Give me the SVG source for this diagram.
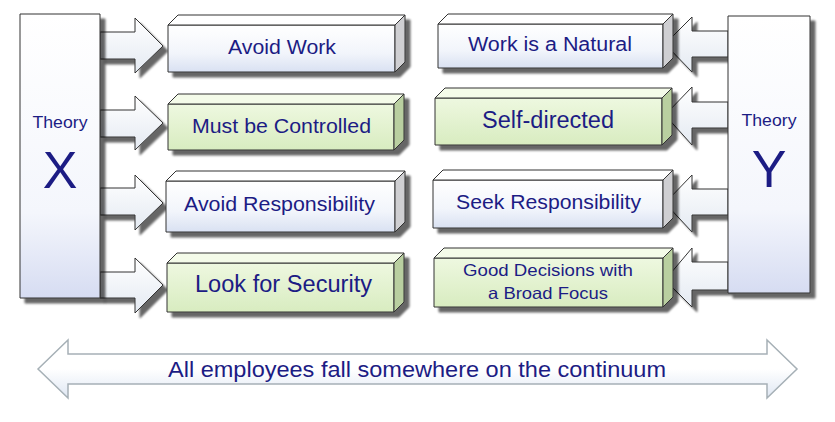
<svg xmlns="http://www.w3.org/2000/svg" width="835" height="422" viewBox="0 0 835 422">
<defs>
<linearGradient id="gBlue" x1="0" y1="0" x2="0" y2="1"><stop offset="0" stop-color="#ffffff"/><stop offset="0.6" stop-color="#f2f5fb"/><stop offset="1" stop-color="#d9e1f2"/></linearGradient>
<linearGradient id="gGreen" x1="0" y1="0" x2="0" y2="1"><stop offset="0" stop-color="#eef8e0"/><stop offset="1" stop-color="#d8ecc0"/></linearGradient>
<linearGradient id="gTall" x1="0" y1="0" x2="0" y2="1"><stop offset="0" stop-color="#ffffff"/><stop offset="0.7" stop-color="#f4f6fc"/><stop offset="1" stop-color="#d6dcf2"/></linearGradient>
<linearGradient id="gArrow" x1="0" y1="0" x2="0" y2="1"><stop offset="0" stop-color="#ffffff"/><stop offset="1" stop-color="#e4eaf2"/></linearGradient>
<linearGradient id="gBig" x1="0" y1="0" x2="0" y2="1"><stop offset="0" stop-color="#ffffff"/><stop offset="0.5" stop-color="#ffffff"/><stop offset="1" stop-color="#dfe7f3"/></linearGradient>
<filter id="sh" x="-10%" y="-10%" width="130%" height="130%">
<feGaussianBlur in="SourceAlpha" stdDeviation="1.2"/>
<feOffset dx="5" dy="5" result="o"/>
<feComponentTransfer><feFuncA type="linear" slope="0.6"/></feComponentTransfer>
<feMerge><feMergeNode/><feMergeNode in="SourceGraphic"/></feMerge>
</filter>
</defs>
<style>
.edge{stroke:#333;stroke-width:1;stroke-linejoin:round}
.fb{fill:url(#gBlue)}
.fg{fill:url(#gGreen)}
.topb{fill:#ffffff}
.sideb{fill:#cfcfd2}
.topg{fill:#f4fbe9}
.sideg{fill:#b9cfa0}
.arr{fill:url(#gArrow);stroke:#333;stroke-width:1;stroke-linejoin:miter}
text{font-family:"Liberation Sans",Arial,sans-serif;fill:#1c1c84;text-anchor:middle}
</style>
<rect width="835" height="422" fill="#ffffff"/>

<g id="connectors">
<polygon class="arr" filter="url(#sh)" points="100,32 135,32 135,18 163,46 135,73 135,59 100,59"/>
<polygon class="arr" filter="url(#sh)" points="100,110 135,110 135,96 163,123 135,150 135,137 100,137"/>
<polygon class="arr" filter="url(#sh)" points="100,188 135,188 135,175 163,203 135,230 135,215 100,215"/>
<polygon class="arr" filter="url(#sh)" points="100,272 135,272 135,258 163,285 135,313 135,298 100,298"/>
<polygon class="arr" filter="url(#sh)" points="728,31 692,31 692,17 665,44 692,72 692,57 728,57"/>
<polygon class="arr" filter="url(#sh)" points="728,102 692,102 692,87 665,115 692,145 692,128 728,128"/>
<polygon class="arr" filter="url(#sh)" points="728,189 692,189 692,175 665,203 692,232 692,215 728,215"/>
<polygon class="arr" filter="url(#sh)" points="728,262 692,262 692,248 665,280 692,307 692,290 728,290"/>
</g>

<g id="theoryX">
<rect x="20" y="14" width="80" height="284" fill="url(#gTall)" class="edge" filter="url(#sh)"/>
<text x="60" y="128" font-size="17" textLength="55" lengthAdjust="spacingAndGlyphs">Theory</text>
<text x="60" y="188" font-size="52">X</text>
</g>

<g id="theoryY">
<rect x="728" y="16" width="82" height="277" fill="url(#gTall)" class="edge" filter="url(#sh)"/>
<text x="769" y="126" font-size="17" textLength="55" lengthAdjust="spacingAndGlyphs">Theory</text>
<text x="769" y="187" font-size="52">Y</text>
</g>

<g id="avoidWork" filter="url(#sh)">
<rect x="168" y="25" width="227" height="47" class="fb edge"/>
<polygon class="topb edge" points="168,25 178,15 405,15 395,25"/>
<polygon class="sideb edge" points="395,25 405,15 405,62 395,72"/>
</g>
<text x="282" y="54" font-size="20" textLength="108" lengthAdjust="spacingAndGlyphs">Avoid Work</text>

<g id="mustBeControlled" filter="url(#sh)">
<rect x="168" y="104" width="226" height="46" class="fg edge"/>
<polygon class="topg edge" points="168,104 178,94 404,94 394,104"/>
<polygon class="sideg edge" points="394,104 404,94 404,140 394,150"/>
</g>
<text x="281.5" y="133" font-size="20" textLength="179" lengthAdjust="spacingAndGlyphs">Must be Controlled</text>

<g id="avoidResponsibility" filter="url(#sh)">
<rect x="166" y="181" width="229" height="51" class="fb edge"/>
<polygon class="topb edge" points="166,181 176,171 405,171 395,181"/>
<polygon class="sideb edge" points="395,181 405,171 405,222 395,232"/>
</g>
<text x="279.5" y="211" font-size="20" textLength="191" lengthAdjust="spacingAndGlyphs">Avoid Responsibility</text>

<g id="lookForSecurity" filter="url(#sh)">
<rect x="167" y="263" width="227" height="49" class="fg edge"/>
<polygon class="topg edge" points="167,263 177,253 404,253 394,263"/>
<polygon class="sideg edge" points="394,263 404,253 404,302 394,312"/>
</g>
<text x="283.5" y="292" font-size="23" textLength="177" lengthAdjust="spacingAndGlyphs">Look for Security</text>

<g id="workIsNatural" filter="url(#sh)">
<rect x="438" y="24" width="225" height="44" class="fb edge"/>
<polygon class="topb edge" points="438,24 448,14 673,14 663,24"/>
<polygon class="sideb edge" points="663,24 673,14 673,58 663,68"/>
</g>
<text x="550" y="51" font-size="20" textLength="164" lengthAdjust="spacingAndGlyphs">Work is a Natural</text>

<g id="selfDirected" filter="url(#sh)">
<rect x="435" y="98" width="227" height="47" class="fg edge"/>
<polygon class="topg edge" points="435,98 445,88 672,88 662,98"/>
<polygon class="sideg edge" points="662,98 672,88 672,135 662,145"/>
</g>
<text x="548" y="128" font-size="23" textLength="132" lengthAdjust="spacingAndGlyphs">Self-directed</text>

<g id="seekResponsibility" filter="url(#sh)">
<rect x="433" y="180" width="230" height="48" class="fb edge"/>
<polygon class="topb edge" points="433,180 443,170 673,170 663,180"/>
<polygon class="sideb edge" points="663,180 673,170 673,218 663,228"/>
</g>
<text x="548.5" y="209" font-size="20" textLength="185" lengthAdjust="spacingAndGlyphs">Seek Responsibility</text>

<g id="goodDecisions" filter="url(#sh)">
<rect x="434" y="258" width="229" height="49" class="fg edge"/>
<polygon class="topg edge" points="434,258 444,248 673,248 663,258"/>
<polygon class="sideg edge" points="663,258 673,248 673,297 663,307"/>
</g>
<text x="548" y="276" font-size="16.5" textLength="170" lengthAdjust="spacingAndGlyphs">Good Decisions with</text>
<text x="548" y="299" font-size="16.5" textLength="120" lengthAdjust="spacingAndGlyphs">a Broad Focus</text>

<g id="continuum">
<polygon points="38,369 68,340 68,354 767,354 767,340 797,369 767,398 767,384 68,384 68,398" fill="url(#gBig)" stroke="#a6b0b6" stroke-width="1.5" stroke-linejoin="miter"/>
<text x="417" y="377" font-size="22" textLength="498" lengthAdjust="spacingAndGlyphs">All employees fall somewhere on the continuum</text>
</g>
</svg>
